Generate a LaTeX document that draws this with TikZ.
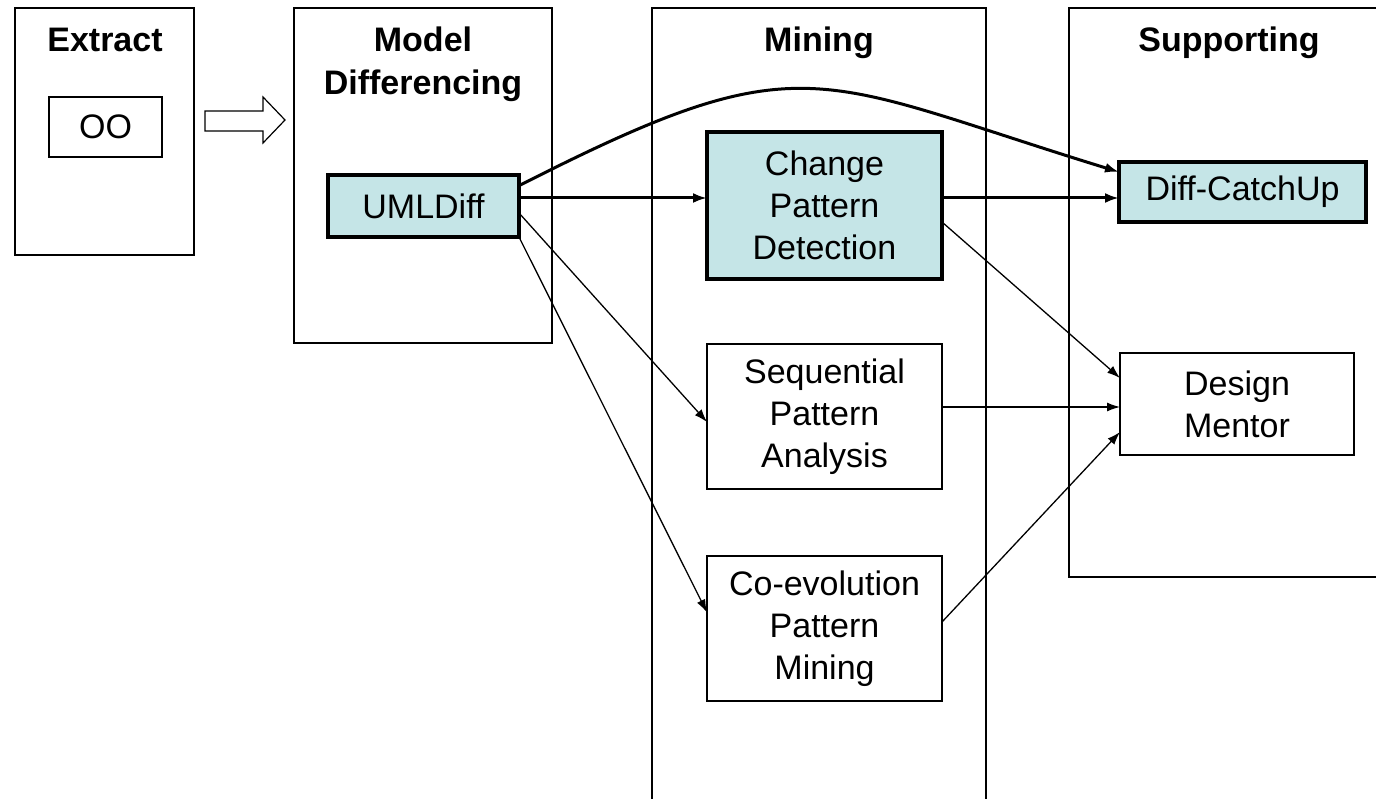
\documentclass[tikz,border=0pt]{standalone}
\usepackage{fontspec}
\setmainfont{Liberation Sans}
\usetikzlibrary{arrows.meta}

\definecolor{stagefill}{RGB}{197,229,231}

\tikzset{
    panel/.style={draw, line width=2.3pt},
    paneltitle/.style={font=\fontsize{34}{43}\selectfont\bfseries, anchor=base, align=center},
    stage/.style={draw, line width=1.6pt, align=center, inner sep=0pt, outer sep=0pt,
        font=\fontsize{34}{42}\selectfont},
    keystage/.style={stage, line width=3.2pt, fill=stagefill},
    flow/.style={-{Latex[length=13pt,width=9pt]}, line width=1.3pt},
    mainflow/.style={-{Latex[length=14pt,width=10pt]}, line width=3pt},
}

\begin{document}
\begin{tikzpicture}[x=1pt, y=-1pt]
    \useasboundingbox (0,0) rectangle (1376,799);

    % Panels
    \draw[panel] (15,8) rectangle (194,255);
    \draw[panel] (294,8) rectangle (552,343);
    \draw[panel] (652,799) |- (986,8) -- (986,799);
    \draw[panel] (1376,8) -| (1069,577) -- (1376,577);

    % Panel titles (base is the last line)
    \node[paneltitle] (extracttitle) at (105,52) {Extract};
    \node[paneltitle] (difftitle) at (423,95) {Model\\Differencing};
    \node[paneltitle] (miningtitle) at (819,52) {Mining};
    \node[paneltitle] (supporttitle) at (1229,52) {Supporting};

    % Block arrow between Extract and Model Differencing
    \draw[line width=1.2pt] (205,111) -- (263,111) -- (263,97) -- (285,120)
        -- (263,143) -- (263,131) -- (205,131) -- cycle;

    % Stages
    \node[stage, line width=1.3pt, minimum width=113pt, minimum height=60pt] (oo) at (105.5,127) {OO};
    \node[keystage, minimum width=191pt, minimum height=62pt] (umldiff) at (423.5,206) {UMLDiff};
    \node[keystage, minimum width=235pt, minimum height=147pt] (change) at (824.5,205.5) {Change\\Pattern\\Detection};
    \node[stage, minimum width=235pt, minimum height=145pt] (sequential) at (824.5,416.5) {Sequential\\Pattern\\Analysis};
    \node[stage, minimum width=235pt, minimum height=145pt] (coevolution) at (824.5,628.5) {Co-evolution\\Pattern\\Mining};
    \node[keystage, minimum width=247pt, minimum height=60pt] (catchup) at (1242.5,192) {Diff-CatchUp};
    \node[stage, minimum width=234pt, minimum height=102pt] (mentor) at (1237,404) {Design\\Mentor};

    % Main flow
    \draw[mainflow] ([yshift=8pt]umldiff.east) -- ([yshift=8pt]umldiff.east -| change.west);
    \draw[mainflow] ([yshift=7.5pt]change.east) -- ([yshift=7.5pt]change.east -| catchup.west);
    \draw[mainflow] (umldiff.12) .. controls (805,40) and (813,78) .. ([yshift=20pt]catchup.west);

    % Other flows
    \draw[flow] ([yshift=-7pt]umldiff.east) -- ([yshift=-5.5pt]sequential.west);
    \draw[flow] (umldiff.south east) -- ([yshift=16pt]coevolution.west);
    \draw[flow] ([yshift=-16.5pt]change.east) -- ([yshift=26pt]mentor.west);
    \draw[flow] ([yshift=9.5pt]sequential.east) -- ([yshift=9.5pt]sequential.east -| mentor.west);
    \draw[flow] ([yshift=6.5pt]coevolution.east) -- ([yshift=-28pt]mentor.west);
\end{tikzpicture}
\end{document}
